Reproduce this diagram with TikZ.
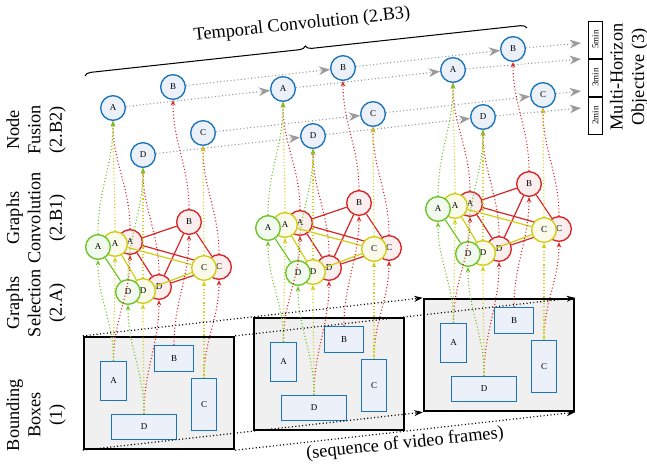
\documentclass[tikz,border=0pt]{standalone}
\usepackage{fontspec}
\setmainfont{Liberation Serif}
\usetikzlibrary{arrows.meta,decorations.pathreplacing}
\definecolor{fblue}{RGB}{28,117,188}
\definecolor{fblueL}{RGB}{236,241,249}
\definecolor{gred}{RGB}{214,40,40}
\definecolor{gredL}{RGB}{250,238,238}
\definecolor{gyel}{RGB}{208,206,20}
\definecolor{gyelL}{RGB}{250,250,234}
\definecolor{ggrn}{RGB}{108,196,40}
\definecolor{ggrnL}{RGB}{242,249,238}
\definecolor{tgray}{RGB}{155,155,155}
\definecolor{frameL}{RGB}{240,240,240}
\newcommand{\smallfont}{\fontsize{5.2}{6}\selectfont}
\newcommand{\labelfont}{\fontsize{10.6}{12.4}\selectfont}
\begin{document}
\begin{tikzpicture}[x=0.58pt,y=-0.58pt,
  every node/.style={inner sep=0pt},
  fusenode/.style={circle,draw=fblue,fill=fblueL,line width=0.8pt,minimum size=14.3pt,font=\smallfont},
  rnode/.style={circle,draw=gred,fill=gredL,line width=0.8pt,minimum size=14.3pt,font=\smallfont},
  ynode/.style={circle,draw=gyel,fill=gyelL,line width=0.8pt,minimum size=14.3pt,font=\smallfont},
  gnode/.style={circle,draw=ggrn,fill=ggrnL,line width=0.8pt,minimum size=14.3pt,font=\smallfont},
  bbox/.style={draw=fblue,fill=fblueL,line width=0.8pt,font=\smallfont},
  vframe/.style={draw=black,fill=frameL,line width=1pt,minimum width=87.4pt,minimum height=65.3pt},
  hbox/.style={draw=black,rotate=90,line width=0.5pt,minimum width=21.5pt,minimum height=8.2pt,font=\smallfont},
  edge/.style={line width=0.7pt},
  link/.style={dash pattern=on 0.6pt off 1.3pt,line width=0.65pt,-{Stealth[length=3.2pt,width=2.6pt]}},
  tlink/.style={tgray,dash pattern=on 0.6pt off 1.4pt,line width=0.65pt,-{Stealth[length=6.5pt,width=5pt,inset=2pt]}},
  flink/.style={black,dash pattern=on 0.6pt off 1.4pt,line width=0.7pt,-{Stealth[length=5pt,width=3.5pt]}},
  lbl/.style={rotate=90,align=center,font=\labelfont}]
\useasboundingbox (0,0) rectangle (647,464);

\foreach \i in {0,1,2}{
\begin{scope}[shift={(170*\i,-19*\i)}]
\node[vframe] (fr\i) at (159,393) {};
\node[bbox,minimum width=14.9pt,minimum height=22.4pt] (bA\i) at (113.5,381) {A};
\node[bbox,minimum width=22.4pt,minimum height=14.9pt] (bB\i) at (174,358.5) {B};
\node[bbox,minimum width=14.3pt,minimum height=29.9pt] (bC\i) at (204,404.5) {C};
\node[bbox,minimum width=37.5pt,minimum height=14.3pt] (bD\i) at (144,427) {D};

\node[rnode] (rA\i) at (130,242) {A};
\node[rnode] (rB\i) at (189,222) {B};
\node[rnode] (rC\i) at (219,267) {C};
\node[rnode] (rD\i) at (159,287) {D};
\draw[edge,gred] (rA\i) -- (rB\i) (rA\i) -- (rC\i) (rA\i) -- (rD\i)
  (rB\i) -- (rC\i) (rB\i) -- (rD\i) (rC\i) -- (rD\i);
\node[ynode] (yA\i) at (115,244) {A};
\node[ynode] (yC\i) at (204,268) {C};
\node[ynode] (yD\i) at (143,291) {D};
\draw[edge,gyel] (yA\i) -- (yC\i) (yA\i) -- (yD\i) (yC\i) -- (yD\i);
\node[gnode] (gA\i) at (98,247) {A};
\node[gnode] (gD\i) at (128,292) {D};
\draw[edge,ggrn] (gA\i) -- (gD\i);

\node[fusenode] (fA\i) at (113,108) {A};
\node[fusenode] (fB\i) at (173,87) {B};
\node[fusenode] (fC\i) at (203,133) {C};
\node[fusenode] (fD\i) at (143,155) {D};

\draw[link,gred] (bA\i.north) to[out=90,in=-90] (rA\i.south);
\draw[link,gred] (bB\i.north) to[out=90,in=-90] (rB\i.south);
\draw[link,gred] (bC\i.north) to[out=90,in=-90] (rC\i.south);
\draw[link,gred] (bD\i.north) to[out=90,in=-90] (rD\i.south);
\draw[link,gyel] (bA\i.north) to[out=90,in=-90] (yA\i.south);
\draw[link,gyel] (bC\i.north) to[out=90,in=-90] (yC\i.south);
\draw[link,gyel] (bD\i.north) to[out=90,in=-90] (yD\i.south);
\draw[link,ggrn] (bA\i.north) to[out=90,in=-90] (gA\i.south);
\draw[link,ggrn] (bD\i.north) to[out=90,in=-90] (gD\i.south);

\draw[link,gred] (rA\i.north) to[out=90,in=-90] (fA\i.south);
\draw[link,gred] (rB\i.north) to[out=90,in=-90] (fB\i.south);
\draw[link,gred] (rC\i.north) to[out=90,in=-90] (fC\i.south);
\draw[link,gred] (rD\i.north) to[out=90,in=-90] (fD\i.south);
\draw[link,gyel] (yA\i.north) to[out=90,in=-90] (fA\i.south);
\draw[link,gyel] (yC\i.north) to[out=90,in=-90] (fC\i.south);
\draw[link,gyel] (yD\i.north) to[out=90,in=-90] (fD\i.south);
\draw[link,ggrn] (gA\i.north) to[out=90,in=-90] (fA\i.south);
\draw[link,ggrn] (gD\i.north) to[out=90,in=-90] (fD\i.south);
\end{scope}
}

\coordinate (eB) at (581,43);
\coordinate (eA) at (581,59);
\coordinate (eC) at (581,91);
\coordinate (eD) at (581,108);
\foreach \n in {A,B,C,D}{
  \draw[tlink] (f\n0) -- (f\n1);
  \draw[tlink] (f\n1) -- (f\n2);
  \draw[tlink] (f\n2) -- (e\n);
}

\draw[flink] (fr0.north west) -- (fr2.north west);
\draw[flink] (fr0.north east) -- (fr2.north east);
\draw[flink] (fr0.south west) -- (fr2.south west);
\draw[flink] (fr0.south east) -- (fr2.south east);

\node[hbox] (h5) at (595.5,39.5) {5min};
\node[hbox] (h3) at (595.5,77.5) {3min};
\node[hbox] (h2) at (595.5,115.5) {2min};
\node[lbl] (lblMH) at (629,77) {Multi-Horizon\\Objective (3)};

\coordinate (brL) at (85,76);
\coordinate (brR) at (527,28);
\draw[decorate,decoration={brace,amplitude=3.5pt},line width=0.6pt] (brL) -- (brR);
\node[rotate=6,font=\labelfont] (tconv) at (302,25) {Temporal Convolution (2.B3)};
\node[rotate=6,font=\labelfont] (seq) at (405,444) {(sequence of video frames)};

\node[lbl] (lblNF) at (36,130) {Node\\Fusion\\(2.B2)};
\node[lbl] (lblGC) at (36,218) {Graphs\\Convolution\\(2.B1)};
\node[lbl] (lblGS) at (36,303) {Graphs\\Selection\\(2.A)};
\node[lbl] (lblBB) at (36,415) {Bounding\\Boxes\\(1)};
\end{tikzpicture}
\end{document}
